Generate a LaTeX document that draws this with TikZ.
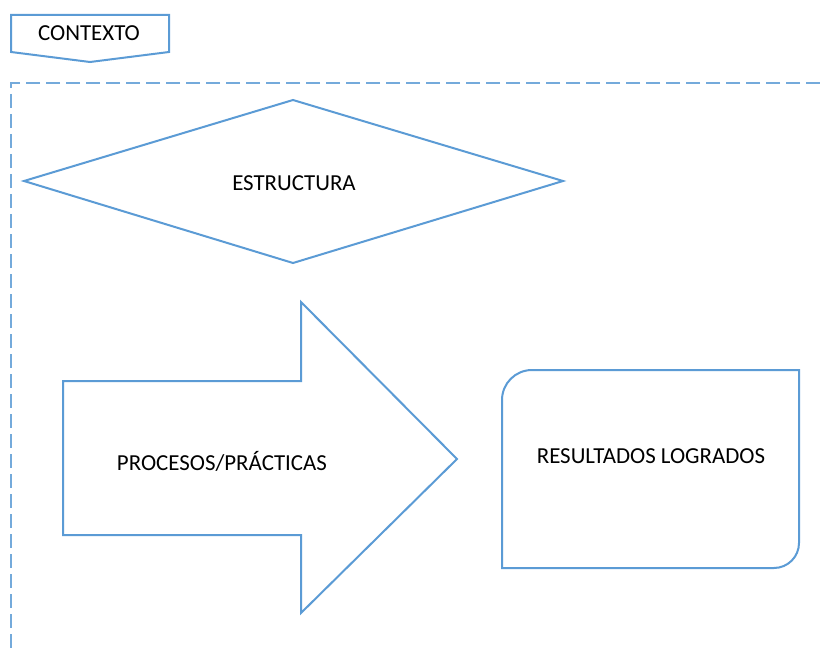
\documentclass[tikz,border=0pt]{standalone}
\usepackage{fontspec}
\setmainfont{Carlito}
\usepackage{tikz}
\usetikzlibrary{positioning}
\definecolor{lineblue}{RGB}{91,155,213}
\tikzstyle{outline}=[draw=lineblue,line width=2pt,line join=miter,fill=white]
\tikzstyle{frame}=[draw=lineblue!85,line width=2pt,dash pattern=on 14pt off 6pt]
\tikzstyle{every node}=[font=\fontsize{22.9}{27}\selectfont]

\begin{document}
\begin{tikzpicture}[x=1pt,y=-1pt]
    \useasboundingbox (0,0) rectangle (820,650);
    % outer frame, only top and left edges visible
    \draw[frame] (820,83) -- (11,83) -- (11,650);
    % contexto tab
    \draw[outline] (11,15) -- (169,15) -- (169,52) -- (90,62) -- (11,52) -- cycle;
    \node (ctx) at (89,33) {CONTEXTO};
    % estructura
    \draw[outline] (24,181) -- (293,100) -- (563,181) -- (293,263) -- cycle;
    \node (est) at (294,183) {ESTRUCTURA};
    % procesos arrow
    \draw[outline] (63,381) -- (301,381) -- (301,302) -- (457,459) -- (301,613)
        -- (301,535) -- (63,535) -- cycle;
    \node (proc) at (222,461) {PROCESOS/PRÁCTICAS};
    % resultados
    \draw[outline] (502,568) -- (502,400) arc[start angle=180,end angle=270,radius=30]
        -- (799,370) -- (799,543) arc[start angle=0,end angle=90,radius=25] -- cycle;
    \node (res) at (651,456) {RESULTADOS LOGRADOS};
\end{tikzpicture}
\end{document}
